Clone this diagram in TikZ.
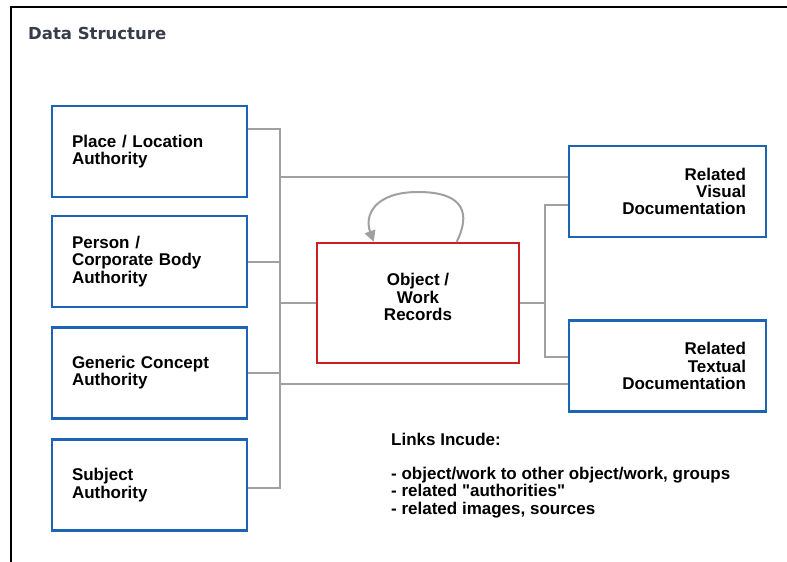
\documentclass[tikz,border=0pt]{standalone}
\usepackage{fontspec}
\setmainfont{Liberation Sans}[Ligatures=TeXOff]
\newfontfamily\titlefont{DejaVu Sans}
\usetikzlibrary{arrows.meta,calc}
\definecolor{boxblue}{RGB}{30,100,180}
\definecolor{objred}{RGB}{205,30,35}
\definecolor{linegray}{RGB}{160,160,160}
\definecolor{titlegray}{RGB}{55,60,75}
\begin{document}
\begin{tikzpicture}[x=1pt,y=1pt,
  txtfont/.style={font=\bfseries\fontsize{17}{17.2}\selectfont, text=black},
  bluebox/.style={txtfont, draw=boxblue, line width=2.5pt, fill=white,
    minimum width=195pt, minimum height=91pt, inner sep=0pt, text width=155pt},
  rightbox/.style={bluebox, minimum width=197pt, text width=157pt, align=right},
  objbox/.style={draw=objred, line width=2.5pt, fill=white,
    minimum width=202pt, minimum height=120pt, inner sep=0pt},
  conn/.style={draw=linegray, line width=2pt}]
\useasboundingbox (0,0) rectangle (787,-562);
\fill[white] (0,0) rectangle (787,-562);
\draw[black, line width=1.6pt] (11,-562) -- (11,-7) -- (787,-7);

\node[anchor=base west, inner sep=0pt, text=titlegray,
  font=\titlefont\bfseries\fontsize{16.5}{18}\selectfont] (title) at (28,-39) {Data Structure};

\node[bluebox, align=left] (p1) at (149.5,-151.5) {Place / Location\\Authority};
\node[bluebox, align=left] (p2) at (149.5,-261.5) {Person /\\Corporate Body\\Authority};
\node[bluebox, align=left] (p3) at (149.5,-373) {Generic Concept\\Authority};
\node[bluebox, align=left] (p4) at (149.5,-485) {Subject\\Authority};

\node[rightbox] (vis) at (667.5,-191.5) {Related\\Visual\\Documentation};
\node[rightbox] (txt) at (667.5,-366) {Related\\Textual\\Documentation};

\node[objbox] (obj) at (418,-303) {};
\node[txtfont, align=center, inner sep=0pt] (objtxt) at (418,-297) {Object /\\Work\\Records};

\node[txtfont, anchor=north west, align=left, inner sep=0pt] (links) at (391,-433)
  {Links Incude:\\[17pt]- object/work to other object/work, groups\\- related "authorities"\\- related images, sources};

\coordinate (bt) at (280,-129);
\coordinate (bb) at (280,-488);
\coordinate (bv) at (280,-177);
\coordinate (bx) at (280,-384);
\coordinate (rt) at (545,-205);
\coordinate (rb) at (545,-357);
\coordinate (ls) at ($(obj.north west)+(141,0)$);
\coordinate (le) at ($(obj.north west)+(58,0)$);

\draw[conn] (p1.east |- bt) -- (bt) -- (bb) -- (p4.east |- bb);
\draw[conn] (p2.east) -- (p2.east -| bt);
\draw[conn] (p3.east) -- (p3.east -| bt);
\draw[conn] (bv) -- (bv -| vis.west);
\draw[conn] (obj.west -| bt) -- (obj.west);
\draw[conn] (bx) -- (bx -| txt.west);
\draw[conn] (obj.east) -- (obj.east -| rt);
\draw[conn] (vis.west |- rt) -- (rt) -- (rb) -- (txt.west |- rb);

\draw[conn, -{Triangle[length=11pt,width=11pt]}] (ls)
  .. controls (470,-215) and (466,-192) .. (418,-192)
  .. controls (375,-192) and (364,-215) .. (le);
\end{tikzpicture}
\end{document}
